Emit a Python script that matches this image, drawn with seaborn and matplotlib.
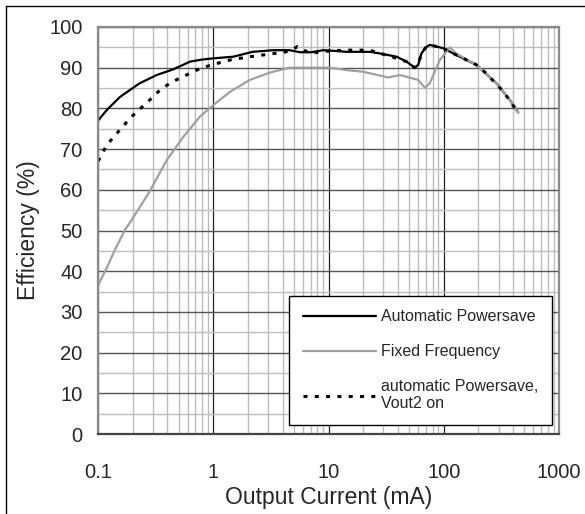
import numpy as np
import pandas as pd
import matplotlib
matplotlib.use("Agg")
import matplotlib.pyplot as plt
from matplotlib.ticker import LogLocator, MultipleLocator, NullFormatter, FixedLocator, FixedFormatter
from matplotlib.lines import Line2D
import seaborn as sns

# ---- data ----
auto_current = [0.1, 0.12, 0.155, 0.2, 0.231, 0.323, 0.45, 0.63, 0.8, 1.0, 1.49, 2.2, 3.3, 4.6,
                5.65, 7.1, 9.0, 11.7, 14.4, 22.9, 27.9, 39.0, 47.5, 56.0, 60.0, 64.0, 70.0, 75.7,
                98.8, 121.0, 192.0, 286.0, 374.0, 442.0]
auto_eff = [77.0, 79.7, 82.8, 85.0, 86.2, 88.2, 89.6, 91.5, 92.0, 92.3, 92.7, 93.9, 94.3, 94.3,
            93.8, 93.8, 94.3, 94.1, 93.9, 93.9, 93.5, 92.7, 91.5, 90.0, 90.7, 93.5, 95.0, 95.6,
            94.8, 93.5, 90.7, 86.2, 82.1, 79.0]

fixed_current = [0.1, 0.119, 0.14, 0.171, 0.196, 0.274, 0.395, 0.55, 0.767, 1.0, 1.4, 2.08, 3.1,
                 4.6, 9.0, 10.3, 14.4, 20.0, 33.0, 41.6, 60.0, 68.6, 75.7, 92.5, 113.0, 128.0,
                 192.0, 286.0, 374.0, 442.0]
fixed_eff = [36.5, 40.8, 45.2, 50.1, 52.6, 59.1, 67.3, 73.0, 78.0, 80.8, 84.1, 87.0, 88.8,
             90.0, 90.0, 90.0, 89.4, 89.0, 87.6, 88.2, 87.0, 85.1, 86.2, 91.9, 95.0, 93.5,
             90.7, 86.2, 82.1, 79.0]

vout2_current = [0.1, 0.119, 0.166, 0.196, 0.282, 0.333, 0.42, 0.51, 0.767, 1.0, 1.4, 2.08, 3.4,
                 4.5, 5.4, 6.9, 9.0, 14.0, 22.9, 36.0, 47.5, 56.0, 60.0, 64.0, 70.0, 75.7, 98.8,
                 121.0, 192.0, 234.0, 276.0, 330.0, 388.0, 442.0]
vout2_eff = [67.0, 71.0, 75.7, 78.0, 82.1, 84.1, 86.2, 87.4, 89.8, 90.8, 91.9, 92.7, 93.5,
             94.0, 95.2, 93.5, 94.0, 94.3, 94.3, 92.6, 91.5, 90.0, 90.7, 93.5, 95.0, 95.6, 94.8,
             93.5, 90.7, 88.6, 86.4, 84.1, 81.2, 79.0]

series_labels = ["Automatic Powersave", "Fixed Frequency", "automatic Powersave,\nVout2 on"]
x_tick_values = [0.1, 1, 10, 100, 1000]
x_tick_labels = ["0.1", "1", "10", "100", "1000"]
y_tick_values = list(range(0, 101, 10))

# ---- style ----
sns.set_style("white")
plt.rcParams["font.family"] = ["Liberation Sans", "DejaVu Sans"]

fig = plt.figure(figsize=(5.85, 5.14), dpi=100)
ax = fig.add_axes([98 / 585, 1 - 434 / 514, (559 - 98) / 585, (434 - 27) / 514])

sns.lineplot(x=auto_current, y=auto_eff, ax=ax, color="black", linewidth=1.6,
             label=series_labels[0], estimator=None, sort=False)
sns.lineplot(x=fixed_current, y=fixed_eff, ax=ax, color="#a0a0a0", linewidth=1.6,
             label=series_labels[1], estimator=None, sort=False)
sns.lineplot(x=vout2_current, y=vout2_eff, ax=ax, color="black", linewidth=2.2,
             label=series_labels[2], estimator=None, sort=False,
             linestyle=(0, (1.3, 2.4)), dash_capstyle="butt")

ax.set_xscale("log")
ax.set_xlim(0.1, 1000)
ax.set_ylim(0, 100)

ax.xaxis.set_major_locator(FixedLocator(x_tick_values))
ax.xaxis.set_major_formatter(FixedFormatter(x_tick_labels))
ax.xaxis.set_minor_locator(LogLocator(base=10, subs=np.arange(2, 10), numticks=20))
ax.xaxis.set_minor_formatter(NullFormatter())
ax.yaxis.set_major_locator(FixedLocator(y_tick_values))
ax.yaxis.set_minor_locator(MultipleLocator(5))

ax.grid(which="minor", axis="both", color="#bdbdbd", linewidth=1.0)
ax.grid(which="major", axis="x", color="#222222", linewidth=0.9)
ax.grid(which="major", axis="y", color="#555555", linewidth=1.0)
ax.set_axisbelow(True)

ax.tick_params(axis="both", which="both", length=0)
ax.tick_params(axis="x", labelsize=14.5, pad=21)
ax.tick_params(axis="y", labelsize=14.5, pad=11)

for s in ax.spines.values():
    s.set_color("#8a8a8a")
    s.set_linewidth(1.6)
ax.spines["bottom"].set_color("#444444")

ax.set_xlabel("Output Current (mA)", fontsize=16.5)
ax.set_ylabel("Efficiency (%)", fontsize=16.5)
ax.xaxis.set_label_coords(0.5, -0.128)
ax.yaxis.set_label_coords(-0.125, 0.5)

leg = ax.legend(loc="lower right", bbox_to_anchor=(0.985, 0.022), borderaxespad=0,
                frameon=True, fancybox=False, framealpha=1, edgecolor="black",
                fontsize=11.5, handlelength=4.6, handletextpad=0.3, labelspacing=1.25,
                borderpad=0.85)
leg.get_frame().set_linewidth(1.0)

# outer figure border
fig.add_artist(Line2D([6 / 585, 6 / 585], [0, 1 - 6 / 514], transform=fig.transFigure,
                      color="black", linewidth=1.0))
fig.add_artist(Line2D([6 / 585, 1], [1 - 6 / 514, 1 - 6 / 514], transform=fig.transFigure,
                      color="black", linewidth=1.0))

fig.savefig("out.png", dpi=100)
